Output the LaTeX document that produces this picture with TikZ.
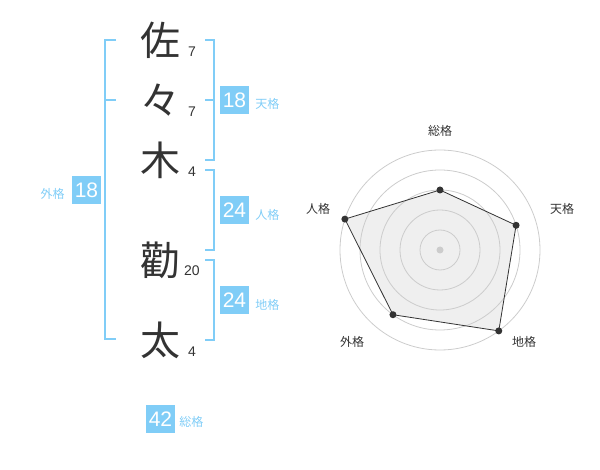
\documentclass[tikz,border=0pt]{standalone}
\usepackage{fontspec}
\setmainfont{Liberation Sans}
\newfontfamily\cjk{Noto Sans CJK JP}
\usepackage{xcolor}
\usepackage{tikz}
\usetikzlibrary{positioning, calc}
\definecolor{kakublue}{HTML}{80CDF7}
\definecolor{inkgray}{HTML}{333333}
\definecolor{ringgray}{HTML}{CCCCCC}
\definecolor{areagray}{HTML}{EFEFEF}

\begin{document}
\begin{tikzpicture}[
    x=1pt, y=-1pt,
    kanji/.style={font=\cjk\fontsize{40}{40}\selectfont, text=inkgray, inner sep=0pt},
    strokes/.style={font=\fontsize{14}{14}\selectfont, text=inkgray, inner sep=0pt},
    score/.style={fill=kakublue, text=white, minimum width=29pt, minimum height=28pt, inner sep=0pt, font=\fontsize{21}{21}\selectfont},
    kaku/.style={font=\cjk\fontsize{12}{12}\selectfont, text=kakublue, inner sep=0pt},
    bracket/.style={draw=kakublue, line width=2pt},
    ring/.style={draw=ringgray, line width=0.8pt},
    axis/.style={font=\cjk\fontsize{12}{12}\selectfont, text=inkgray, inner sep=0pt},
    dot/.style={circle, fill=inkgray, inner sep=0pt, minimum size=7pt}
]
\useasboundingbox (0,0) rectangle (600,470);

% Name characters
\node[kanji] (sa) at (160,40) {佐};
\node[kanji] (noma) at (160,100) {々};
\node[kanji] (ki) at (160,160) {木};
\node[kanji] (kan) at (160,260) {勸};
\node[kanji] (ta) at (160,340) {太};

% Stroke counts
\node[strokes] (sa-n) at (192,52) {7};
\node[strokes] (noma-n) at (192,112) {7};
\node[strokes] (ki-n) at (192,172) {4};
\node[strokes] (kan-n) at (192,271) {20};
\node[strokes] (ta-n) at (192,352) {4};

% Brackets
\draw[bracket] (116,40) -- (105,40) -- (105,339) -- (116,339);
\draw[bracket] (105,100) -- (116,100);
\draw[bracket] (205,40) -- (214,40) -- (214,160) -- (205,160);
\draw[bracket] (205,100) -- (214,100);
\draw[bracket] (205,170) -- (214,170) -- (214,250) -- (205,250);
\draw[bracket] (205,260) -- (214,260) -- (214,340) -- (205,340);

% Scores
\node[score] (gai) at (86.5,190.5) {18};
\node[kaku, left=7pt of gai, yshift=-3.5pt] (gai-l) {外格};
\node[score] (ten) at (234.5,100) {18};
\node[kaku, right=6pt of ten, yshift=-4pt] (ten-l) {天格};
\node[score] (jin) at (234.5,210.5) {24};
\node[kaku, right=6pt of jin, yshift=-4pt] (jin-l) {人格};
\node[score] (chi) at (234.5,300.5) {24};
\node[kaku, right=6pt of chi, yshift=-4pt] (chi-l) {地格};
\node[score] (sou) at (160.5,419) {42};
\node[kaku, right=4pt of sou, yshift=-3pt] (sou-l) {総格};

% Radar chart
\begin{scope}[shift={(440,250)}, y=1pt]
  \fill[areagray] (90:60) -- (18:80) -- (-54:100) -- (-126:80) -- (162:100) -- cycle;
  \foreach \r in {20,40,60,80,100}
    \draw[ring] (0,0) circle[radius=\r pt];
  \fill[ringgray] (0,0) circle[radius=3.5pt];

  \node[dot] (p-sou) at (90:60) {};
  \node[dot] (p-ten) at (18:80) {};
  \node[dot] (p-chi) at (-54:100) {};
  \node[dot] (p-gai) at (-126:80) {};
  \node[dot] (p-jin) at (162:100) {};
  \draw[inkgray, line width=0.8pt] (p-sou.center) -- (p-ten.center) -- (p-chi.center)
    -- (p-gai.center) -- (p-jin.center) -- cycle;

  \node[axis] (a-sou) at (0,119) {総格};
  \node[axis] (a-ten) at (122,41.5) {天格};
  \node[axis] (a-chi) at (84,-92) {地格};
  \node[axis] (a-gai) at (-88,-92) {外格};
  \node[axis] (a-jin) at (-122,41.5) {人格};
\end{scope}

\end{tikzpicture}
\end{document}
